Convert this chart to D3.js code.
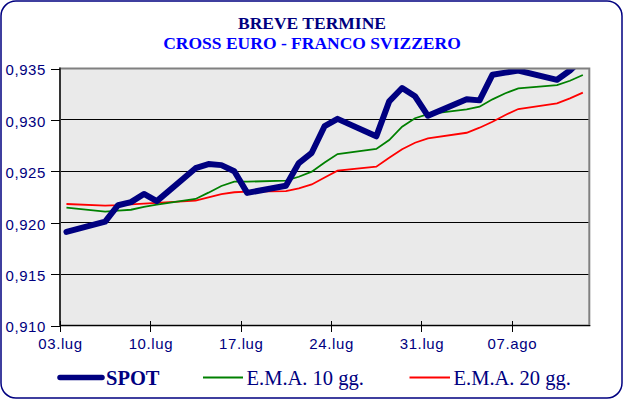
<!DOCTYPE html>
<html>
<head>
<meta charset="utf-8">
<script src="https://cdn.jsdelivr.net/npm/d3@7/dist/d3.min.js"></script>
<style>
  html, body { margin: 0; padding: 0; background: #fff; }
  svg { display: block; }
</style>
</head>
<body>
<svg id="chart" width="624" height="400"></svg>
<script>
// ---- data ----
const titleLines = ["BREVE TERMINE", "CROSS EURO - FRANCO SVIZZERO"];
const dates = [
  "2015-07-03",
  "2015-07-06","2015-07-07","2015-07-08","2015-07-09","2015-07-10",
  "2015-07-13","2015-07-14","2015-07-15","2015-07-16","2015-07-17",
  "2015-07-20","2015-07-21","2015-07-22","2015-07-23","2015-07-24",
  "2015-07-27","2015-07-28","2015-07-29","2015-07-30","2015-07-31",
  "2015-08-03","2015-08-04","2015-08-05","2015-08-06","2015-08-07",
  "2015-08-10","2015-08-11","2015-08-12"
];
const spot = [
  0.9191,
  0.9201, 0.9217, 0.9220, 0.9228, 0.9221,
  0.9253, 0.9257, 0.9256, 0.9250, 0.9229,
  0.9236, 0.9258, 0.9268, 0.9294, 0.9301,
  0.9284, 0.9318, 0.9331, 0.9323, 0.9304,
  0.9320, 0.9319, 0.9344, 0.9346, 0.9348,
  0.9339, 0.9348, 0.9360
];
const ema10 = [
  0.92146,
  0.92107, 0.92117, 0.92126, 0.92153, 0.92175,
  0.92231, 0.92292, 0.92357, 0.92399, 0.92399,
  0.92409, 0.92447, 0.92496, 0.92586, 0.92668,
  0.92717, 0.92804, 0.92934, 0.93016, 0.93057,
  0.93103, 0.93128, 0.93200, 0.93259, 0.93307,
  0.93339, 0.93381, 0.93437
];
const ema20 = [
  0.92182,
  0.92167, 0.92170, 0.92178, 0.92186, 0.92193,
  0.92214, 0.92247, 0.92279, 0.92296, 0.92302,
  0.92308, 0.92335, 0.92372, 0.92440, 0.92506,
  0.92545, 0.92632, 0.92714, 0.92778, 0.92821,
  0.92875, 0.92924, 0.92982, 0.93048, 0.93106,
  0.93161, 0.93210, 0.93265
];
const yTicks = [0.910, 0.915, 0.920, 0.925, 0.930, 0.935];
const xTickDates = ["2015-07-03","2015-07-10","2015-07-17","2015-07-24","2015-07-31","2015-08-07"];
const xTickLabels = ["03.lug","10.lug","17.lug","24.lug","31.lug","07.ago"];
const xDomain = ["2015-07-03","2015-08-13"];
const yDomain = [0.910, 0.935];
const seriesNames = ["SPOT", "E.M.A. 10 gg.", "E.M.A. 20 gg."];

// ---- layout ----
const svg = d3.select("#chart");
const L = 60, R = 589.3, T = 68.5, B = 325.5;
const parse = d3.utcParse("%Y-%m-%d");
const HALF_DAY = 12 * 3600 * 1000;

const x = d3.scaleUtc().domain(xDomain.map(parse)).range([L, R]);
const y = d3.scaleLinear().domain(yDomain).range([B, T]);

// outer rounded frame
svg.append("rect")
  .attr("x", 1).attr("y", 1).attr("width", 621).attr("height", 397)
  .attr("rx", 15).attr("ry", 15)
  .attr("fill", "#fff").attr("stroke", "#000080").attr("stroke-width", 1.5);

// titles
svg.append("text").attr("x", 312).attr("y", 28.5).attr("text-anchor", "middle")
  .attr("font-family", "Liberation Serif, Times New Roman, serif").attr("font-weight", "bold")
  .attr("font-size", 17.5).attr("fill", "#000080").text(titleLines[0]);
svg.append("text").attr("x", 312).attr("y", 49).attr("text-anchor", "middle")
  .attr("font-family", "Liberation Serif, Times New Roman, serif").attr("font-weight", "bold")
  .attr("font-size", 17.5).attr("fill", "#0000FF").text(titleLines[1]);

// plot background
svg.append("rect").attr("x", L).attr("y", T).attr("width", R - L).attr("height", B - T)
  .attr("fill", "#EAEAEA");

// gridlines
svg.append("g").attr("shape-rendering", "crispEdges")
  .selectAll("line").data(yTicks.filter(v => v > yDomain[0] && v < yDomain[1]))
  .join("line")
  .attr("x1", L).attr("x2", R)
  .attr("y1", d => y(d)).attr("y2", d => y(d))
  .attr("stroke", "#000").attr("stroke-width", 1);

// clip
svg.append("clipPath").attr("id", "plotclip")
  .append("rect").attr("x", L).attr("y", T).attr("width", R - L).attr("height", B - T);

const pts = vals => vals.map((v, i) => ({ d: new Date(parse(dates[i]).getTime() + HALF_DAY), v }));
const line = d3.line().x(p => x(p.d)).y(p => y(p.v));

const gLines = svg.append("g").attr("clip-path", "url(#plotclip)");
gLines.append("path").datum(pts(ema20)).attr("d", line)
  .attr("fill", "none").attr("stroke", "#FF0000").attr("stroke-width", 1.8);
gLines.append("path").datum(pts(ema10)).attr("d", line)
  .attr("fill", "none").attr("stroke", "#008000").attr("stroke-width", 1.8);
gLines.append("path").datum(pts(spot)).attr("d", line)
  .attr("fill", "none").attr("stroke", "#000080").attr("stroke-width", 6)
  .attr("stroke-linejoin", "round").attr("stroke-linecap", "round");

// plot border (gray top/right)
svg.append("rect").attr("x", L).attr("y", T).attr("width", R - L).attr("height", B - T)
  .attr("fill", "none").attr("stroke", "#808080").attr("stroke-width", 2);

// axes
const fmtY = d => d3.format(".3f")(d).replace(".", ",");
const yAxis = svg.append("g").attr("transform", `translate(${L},0)`)
  .call(d3.axisLeft(y).tickValues(yTicks).tickFormat(fmtY).tickSize(9).tickPadding(5));
yAxis.select(".domain").remove();
yAxis.selectAll("line").attr("stroke", "#000").attr("shape-rendering", "crispEdges");
yAxis.selectAll("text")
  .attr("font-family", "Liberation Sans, Arial, sans-serif").attr("font-size", 15)
  .attr("letter-spacing", 0.6).attr("fill", "#000080").attr("dy", "0.42em");

const xAxis = svg.append("g").attr("transform", `translate(0,${B})`)
  .call(d3.axisBottom(x).tickValues(xTickDates.map(parse))
    .tickFormat((d, i) => xTickLabels[i]).tickSize(6).tickPadding(3));
xAxis.select(".domain").remove();
xAxis.selectAll("line").attr("stroke", "#000").attr("y1", -5).attr("shape-rendering", "crispEdges");
xAxis.selectAll("text")
  .attr("font-family", "Liberation Sans, Arial, sans-serif").attr("font-size", 15)
  .attr("letter-spacing", 0.6).attr("fill", "#000080").attr("dy", "0.95em");

svg.append("line").attr("x1", L).attr("x2", L).attr("y1", T - 1).attr("y2", B)
  .attr("stroke", "#000").attr("stroke-width", 1.2);
svg.append("line").attr("x1", L).attr("x2", R + 1).attr("y1", B).attr("y2", B)
  .attr("stroke", "#000").attr("stroke-width", 1.2);

// legend
const legend = [
  { name: seriesNames[0], color: "#000080", w: 5.5, x0: 60, x1: 102, tx: 106, bold: true },
  { name: seriesNames[1], color: "#008000", w: 2, x0: 203, x1: 243, tx: 246.5, bold: false },
  { name: seriesNames[2], color: "#FF0000", w: 2, x0: 409.5, x1: 450, tx: 453.5, bold: false }
];
const lg = svg.append("g");
legend.forEach(l => {
  lg.append("line").attr("x1", l.x0).attr("x2", l.x1).attr("y1", 377.5).attr("y2", 377.5)
    .attr("stroke", l.color).attr("stroke-width", l.w)
    .attr("stroke-linecap", l.bold ? "round" : "butt");
  lg.append("text").attr("x", l.tx).attr("y", 384.5)
    .attr("font-family", "Liberation Serif, Times New Roman, serif")
    .attr("font-weight", l.bold ? "bold" : "normal")
    .attr("font-size", 20.5).attr("fill", "#000080").text(l.name);
});
</script>
</body>
</html>
